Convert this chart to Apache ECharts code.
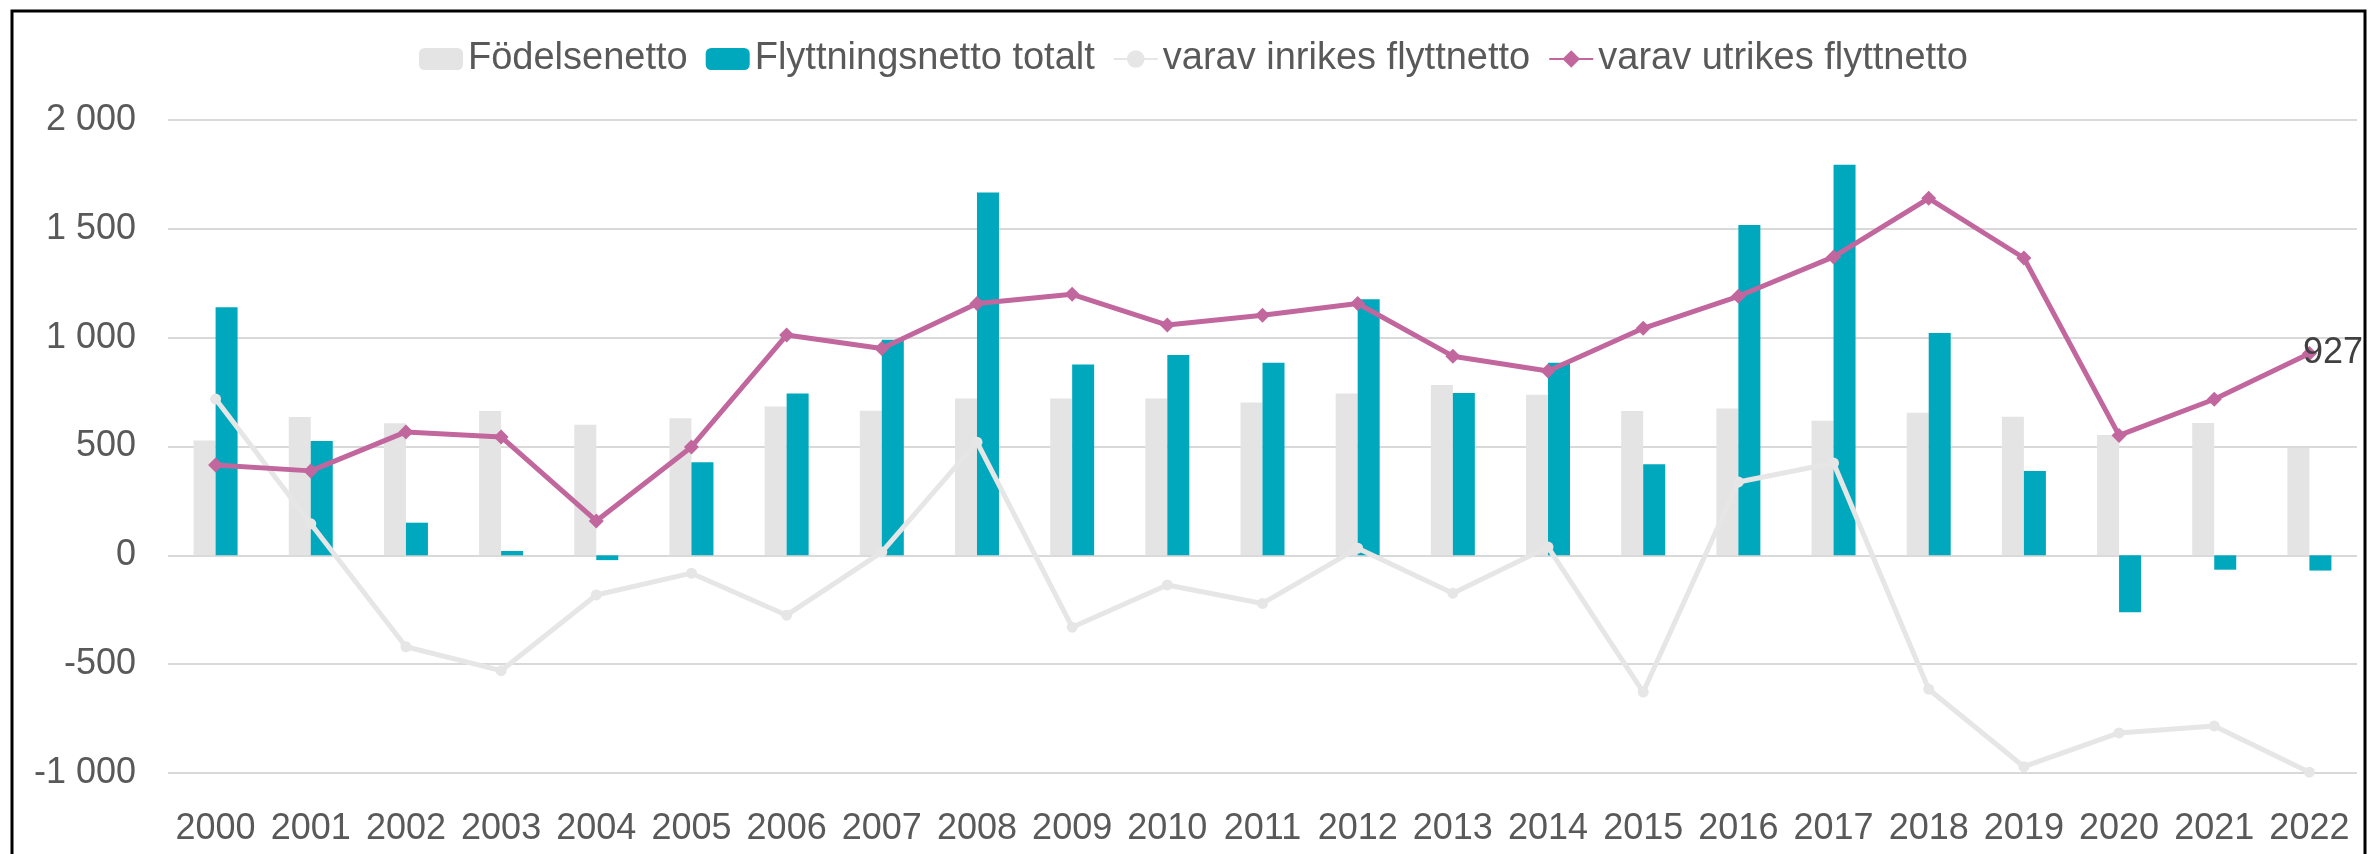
<!DOCTYPE html>
<html>
<head>
<meta charset="utf-8">
<script src="https://cdn.jsdelivr.net/npm/echarts@6/dist/echarts.min.js"></script>
<style>
  html, body { margin: 0; padding: 0; background: #fff; }
  #chart { width: 2374px; height: 854px; }
</style>
</head>
<body>
<div id="chart"></div>
<script>
// kategorier (år)
const years = ['2000', '2001', '2002', '2003', '2004', '2005', '2006', '2007', '2008', '2009', '2010', '2011',
  '2012', '2013', '2014', '2015', '2016', '2017', '2018', '2019', '2020', '2021', '2022'];

// serier
const fodelsenetto = [528, 635, 607, 663, 600, 630, 684, 664, 721, 721, 721, 702,
  744, 782, 738, 663, 675, 618, 655, 637, 553, 608, 494];
const flyttningsnetto = [1140, 525, 150, 20, -22, 428, 744, 990, 1667, 877, 920, 885,
  1177, 746, 885, 418, 1518, 1794, 1022, 388, -262, -66, -70];
const inrikes = [718, 145, -420, -530, -182, -82, -275, 15, 520, -330, -136, -221,
  33, -174, 38, -628, 337, 424, -615, -971, -816, -784, -996];
const utrikes = [415, 388, 567, 544, 158, 498, 1012, 950, 1157, 1199, 1058, 1103,
  1157, 915, 847, 1043, 1190, 1371, 1640, 1366, 551, 717, 927];

// y-axelns etiketter
const yTicks = [-1000, -500, 0, 500, 1000, 1500, 2000];
const yTickLabels = ['-1 000', '-500', '0', '500', '1 000', '1 500', '2 000'];

const font = "'Liberation Sans', Arial, sans-serif";
const textGrey = '#595959';

const chart = echarts.init(document.getElementById('chart'));

// bara sista punkten får en etikett
const utrikesData = utrikes.map((v, i) => i === utrikes.length - 1
  ? { value: v, label: { show: true } }
  : v);

const option = {
  backgroundColor: '#ffffff',
  animation: false,
  textStyle: { fontFamily: font },
  graphic: [{
    type: 'rect',
    shape: { x: 12, y: 11, width: 2353, height: 880 },
    style: { fill: 'none', stroke: '#000', lineWidth: 3 },
    silent: true
  }],
  legend: {
    left: 414,
    top: 35,
    itemWidth: 44,
    itemHeight: 22,
    itemGap: 18,
    textStyle: { fontFamily: font, fontSize: 38, color: textGrey },
    data: ['Födelsenetto', 'Flyttningsnetto totalt', 'varav inrikes flyttnetto', 'varav utrikes flyttnetto']
  },
  grid: { left: 168, right: 17, top: 120, bottom: 81 },
  xAxis: {
    type: 'category',
    data: years,
    axisLine: { show: false },
    axisTick: { show: false },
    axisLabel: { fontFamily: font, fontSize: 36, color: textGrey, margin: 38, interval: 0 }
  },
  yAxis: {
    type: 'value',
    min: -1000,
    max: 2000,
    interval: 500,
    axisLine: { show: false },
    axisTick: { show: false },
    splitLine: { lineStyle: { color: '#d9d9d9', width: 2 } },
    axisLabel: {
      fontFamily: font, fontSize: 36, color: textGrey, margin: 32,
      formatter: function (v) {
        const i = yTicks.indexOf(v);
        return i >= 0 ? yTickLabels[i] : v;
      }
    }
  },
  series: [
    {
      name: 'Födelsenetto',
      type: 'bar',
      data: fodelsenetto,
      barWidth: 22,
      barGap: '0%',
      itemStyle: { color: '#e4e4e4' }
    },
    {
      name: 'Flyttningsnetto totalt',
      type: 'bar',
      data: flyttningsnetto,
      barWidth: 22,
      barGap: '0%',
      itemStyle: { color: '#00a8bd' }
    },
    {
      name: 'varav inrikes flyttnetto',
      type: 'line',
      data: inrikes,
      symbol: 'circle',
      symbolSize: 11,
      lineStyle: { color: '#e6e6e6', width: 5 },
      itemStyle: { color: '#e6e6e6' }
    },
    {
      name: 'varav utrikes flyttnetto',
      type: 'line',
      data: utrikesData,
      symbol: 'diamond',
      symbolSize: 15,
      lineStyle: { color: '#c1679e', width: 5 },
      itemStyle: { color: '#c1679e' },
      label: {
        show: false,
        position: 'right',
        distance: -14,
        fontFamily: font,
        fontSize: 36,
        color: '#404040'
      }
    }
  ]
};

chart.setOption(option);
</script>
</body>
</html>
